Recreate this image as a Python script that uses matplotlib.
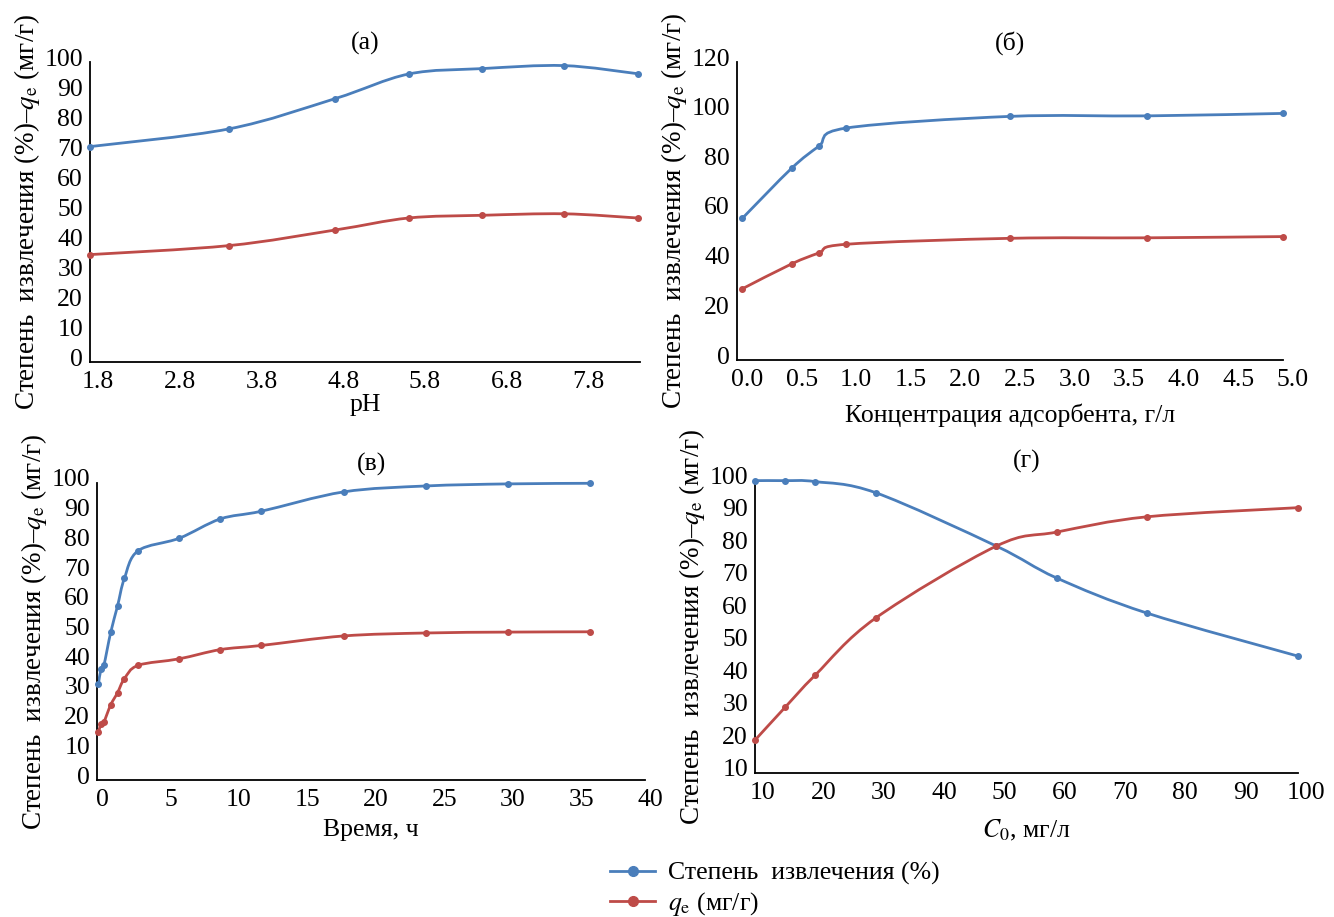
import numpy as np
import matplotlib
matplotlib.use("Agg")
import matplotlib.pyplot as plt
import matplotlib.transforms as mtransforms
from matplotlib.path import Path
from matplotlib.patches import PathPatch
from matplotlib.lines import Line2D

plt.rcParams['font.family'] = ['Liberation Serif', 'DejaVu Serif']
plt.rcParams['mathtext.fontset'] = 'stix'

BLUE = '#4a7ebb'
RED = '#be4b48'

# (a) pH
ph = [1.8, 3.5, 4.8, 5.7, 6.6, 7.6, 8.5]
ph_removal = [71.8, 77.7, 87.8, 96.0, 97.8, 98.8, 96.1]
ph_qe = [35.8, 38.8, 44.0, 48.0, 48.9, 49.4, 48.0]

# (б) adsorbent dose
dose = [0.05, 0.5, 0.75, 1.0, 2.5, 3.75, 5.0]
dose_removal = [57.1, 77.2, 86.1, 93.4, 98.1, 98.3, 99.3]
dose_qe = [28.7, 38.7, 43.1, 46.6, 49.0, 49.2, 49.7]

# (в) contact time
time_h = [0.1, 0.3, 0.5, 1, 1.5, 2, 3, 6, 9, 12, 18, 24, 30, 36]
time_removal = [32.3, 37.5, 38.6, 49.7, 58.6, 67.9, 77.2, 81.4, 87.9, 90.5, 97.0, 99.0, 99.7, 99.9]
time_qe = [16.1, 18.8, 19.5, 25.3, 29.4, 34.1, 38.6, 40.8, 43.9, 45.3, 48.5, 49.5, 49.8, 49.9]

# (г) initial concentration
c0 = [10, 15, 20, 30, 50, 60, 75, 100]
c0_removal = [99.8, 99.8, 99.5, 96.1, 79.7, 69.9, 59.1, 45.9]
c0_qe = [20.1, 30.2, 40.1, 57.6, 79.7, 84.0, 88.7, 91.5]

ylab = 'Степень  извлечения (%)–$q_\\mathrm{e}$ (мг/г)'
FS = 18.5
FS_LAB = 19.5


def smooth_line(ax, x, y, color):
    # excel-like smoothed line: cubic bezier through the points
    p = np.column_stack([x, y]).astype(float)
    n = len(p)
    verts = [p[0]]
    codes = [Path.MOVETO]
    for i in range(n - 1):
        p0 = p[i - 1] if i > 0 else p[i]
        p3 = p[i + 2] if i + 2 < n else p[i + 1]
        c1 = p[i] + (p[i + 1] - p0) / 6.0
        c2 = p[i + 1] - (p3 - p[i]) / 6.0
        verts += [c1, c2, p[i + 1]]
        codes += [Path.CURVE4] * 3
    ax.add_patch(PathPatch(Path(verts, codes), fc='none', ec=color, lw=2.0, clip_on=False))
    ax.plot(x, y, 'o', color=color, ms=4, clip_on=False, zorder=3)


def style(ax, title, xlabel, xpad, xshift=8):
    for s in ['top', 'right']:
        ax.spines[s].set_visible(False)
    for s in ['left', 'bottom']:
        ax.spines[s].set_linewidth(1.3)
    ax.tick_params(length=0, labelsize=FS)
    ax.tick_params(axis='x', pad=6.5)
    ax.tick_params(axis='y', pad=5)
    # labels sit a bit right / up of their ticks in the original
    dx = mtransforms.ScaledTranslation(xshift / 100, 0, fig.dpi_scale_trans)
    dy = mtransforms.ScaledTranslation(0, 5 / 100, fig.dpi_scale_trans)
    for lab in ax.get_xticklabels():
        lab.set_transform(lab.get_transform() + dx)
    for lab in ax.get_yticklabels():
        lab.set_transform(lab.get_transform() + dy)
    ax.set_title(title, fontsize=FS, pad=9)
    ax.set_xlabel(xlabel, fontsize=FS, labelpad=xpad)
    ax.set_ylabel(ylab, fontsize=FS_LAB, labelpad=2)


W, H = 1334, 917
fig = plt.figure(figsize=(W / 100, H / 100), dpi=100)


def add_ax(l, r, t, b):
    return fig.add_axes([l / W, 1 - b / H, (r - l) / W, (b - t) / H])


ax1 = add_ax(90, 640, 62, 362)
smooth_line(ax1, ph, ph_removal, BLUE)
smooth_line(ax1, ph, ph_qe, RED)
ax1.set_xlim(1.8, 8.53)
ax1.set_ylim(0, 100)
ax1.set_xticks(np.arange(1.8, 8.0, 1.0))
ax1.set_xticklabels(['1.8', '2.8', '3.8', '4.8', '5.8', '6.8', '7.8'])
ax1.set_yticks(np.arange(0, 101, 10))
style(ax1, '(a)', 'pH', 1)

ax2 = add_ax(737, 1283, 62, 360)
smooth_line(ax2, dose, dose_removal, BLUE)
smooth_line(ax2, dose, dose_qe, RED)
ax2.set_xlim(0, 5)
ax2.set_ylim(0, 120)
ax2.set_xticks(np.arange(0, 5.01, 0.5))
ax2.set_xticklabels(['%.1f' % v for v in np.arange(0, 5.01, 0.5)])
ax2.set_yticks(np.arange(0, 121, 20))
style(ax2, '(б)', 'Концентрация адсорбента, г/л', 9, xshift=10)

ax3 = add_ax(97, 645, 483, 780)
smooth_line(ax3, time_h, time_removal, BLUE)
smooth_line(ax3, time_h, time_qe, RED)
ax3.set_xlim(0, 40)
ax3.set_ylim(0, 100)
ax3.set_xticks(np.arange(0, 41, 5))
ax3.set_yticks(np.arange(0, 101, 10))
style(ax3, '(в)', 'Время, ч', 6, xshift=5)

ax4 = add_ax(755, 1298, 480, 773)
smooth_line(ax4, c0, c0_removal, BLUE)
smooth_line(ax4, c0, c0_qe, RED)
ax4.set_xlim(10, 100)
ax4.set_ylim(10, 100)
ax4.set_xticks(np.arange(10, 101, 10))
ax4.set_yticks(np.arange(10, 101, 10))
style(ax4, '(г)', '$C_0$, мг/л', 10)

handles = [Line2D([], [], color=BLUE, lw=2.0, marker='o', ms=7),
           Line2D([], [], color=RED, lw=2.0, marker='o', ms=7)]
fig.legend(handles, ['Степень  извлечения (%)', '$q_\\mathrm{e}$ (мг/г)'],
           loc='center', bbox_to_anchor=(775 / W, 1 - 890 / H), frameon=False,
           fontsize=FS, handlelength=1.75, labelspacing=0.2, handletextpad=0.5,
           borderpad=0.2)

fig.savefig('out.png', dpi=100)
